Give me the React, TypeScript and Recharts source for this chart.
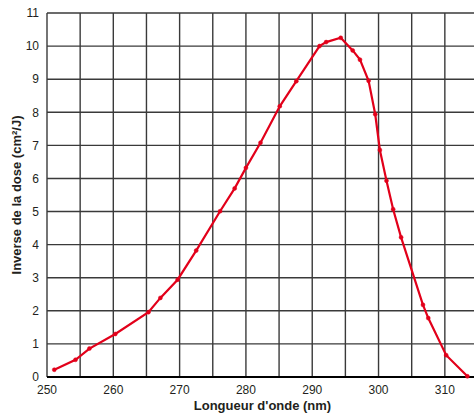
import { LineChart, Line, XAxis, YAxis, CartesianGrid, Label } from "recharts";

// longueur d'onde (nm) et inverse de la dose (cm²/J)
const wavelengths = [
  251.1, 254.3, 256.4, 260.3, 265.3, 267.1, 269.7, 272.5, 276.1, 278.3,
  280.0, 282.2, 285.1, 287.6, 291.1, 292.1, 294.3, 296.1, 297.2, 298.5,
  299.5, 300.2, 301.2, 302.2, 303.4, 306.7, 307.5, 310.2, 313.4,
];
const inverseDose = [
  0.22, 0.52, 0.86, 1.3, 1.96, 2.39, 2.94, 3.82, 5.01, 5.7,
  6.32, 7.08, 8.18, 8.94, 10.0, 10.12, 10.25, 9.87, 9.59, 8.95,
  7.94, 6.86, 5.93, 5.07, 4.22, 2.18, 1.78, 0.66, 0.02,
];
const xTicks = [250, 255, 260, 265, 270, 275, 280, 285, 290, 295, 300, 305, 310, 315];
const yTicks = [0, 1, 2, 3, 4, 5, 6, 7, 8, 9, 10, 11];

const data = wavelengths.map((x, i) => ({ x, y: inverseDose[i] }));

const RED = "#e2001a";
const FONT = "'Liberation Sans', Arial, sans-serif";

const App = () => {
  return (
    <div
      style={{
        position: "absolute",
        top: 0,
        left: 0,
        width: 474,
        height: 414,
        overflow: "hidden",
        background: "#fff",
        fontFamily: FONT,
      }}
    >
      <LineChart width={478} height={414} data={data} margin={{ top: 13, right: 0, bottom: 0, left: 0 }}>
        <CartesianGrid stroke="#3a3a3a" strokeWidth={1.4} />
        <XAxis
          type="number"
          dataKey="x"
          domain={[250, 315]}
          ticks={xTicks}
          tickFormatter={(v: number) => (v % 10 === 0 && v < 315 ? String(v) : "")}
          tickLine={false}
          axisLine={{ stroke: "#000", strokeWidth: 2 }}
          height={37}
          tick={{ fontSize: 12, fill: "#231f20", fontFamily: FONT }}
        >
          <Label
            content={({ viewBox }: any) => (
              <text
                x={viewBox.x + viewBox.width / 2}
                y={409.5}
                textAnchor="middle"
                fontSize={13}
                fontWeight="bold"
                fill="#231f20"
                fontFamily={FONT}
              >
                Longueur d'onde (nm)
              </text>
            )}
          />
        </XAxis>
        <YAxis
          type="number"
          domain={[0, 11]}
          ticks={yTicks}
          interval={0}
          tickLine={false}
          axisLine={false}
          width={47}
          tick={{ fontSize: 12, fill: "#231f20", fontFamily: FONT }}
        >
          <Label
            content={({ viewBox }: any) => {
              const cy = viewBox.y + viewBox.height / 2;
              return (
                <text
                  x={21}
                  y={cy}
                  transform={`rotate(-90, 21, ${cy})`}
                  textAnchor="middle"
                  fontSize={13}
                  fontWeight="bold"
                  fill="#231f20"
                  fontFamily={FONT}
                >
                  Inverse de la dose (cm²/J)
                </text>
              );
            }}
          />
        </YAxis>
        <Line
          type="linear"
          dataKey="y"
          stroke={RED}
          strokeWidth={2.2}
          dot={{ r: 2, fill: RED, stroke: RED, strokeWidth: 0.5 }}
          isAnimationActive={false}
        />
      </LineChart>
    </div>
  );
};

export default App;
